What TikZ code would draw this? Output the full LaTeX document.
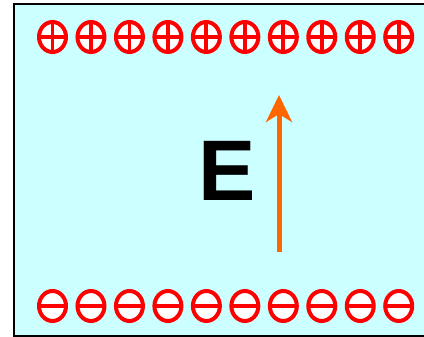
\documentclass[tikz,border=0pt]{standalone}
\usepackage{fontspec}
\setmainfont{Liberation Sans}
\usetikzlibrary{shapes.geometric,arrows.meta}
\definecolor{bgcyan}{HTML}{CCFFFF}
\definecolor{arroworange}{HTML}{FF6600}
\tikzset{
  charge/.style={ellipse, draw=red, fill=white, line width=4pt, minimum width=27pt, minimum height=30pt, inner sep=0pt},
  pluscharge/.style={charge, path picture={
      \draw[red, line width=3.8pt] (path picture bounding box.north) -- (path picture bounding box.south)
           (path picture bounding box.west) -- (path picture bounding box.east);}},
  minuscharge/.style={charge, path picture={
      \draw[red, line width=3.8pt] (path picture bounding box.west) -- (path picture bounding box.east);}},
  fieldarrow/.style={draw=arroworange, line width=5pt, -{Stealth[length=27pt,width=26pt,inset=8pt]}}
}
\begin{document}
\begin{tikzpicture}[x=1pt,y=-1pt]
\useasboundingbox (0,0) rectangle (424,337);
\clip (0,0) rectangle (424,337);
\draw[fill=bgcyan, line width=2pt] (14,4) rectangle (440,335.5);
\foreach \i in {0,...,9} {
  \node[pluscharge] (p\i) at ({52.5+38.47*\i},37) {};
  \node[minuscharge] (m\i) at ({52.5+38.47*\i},306) {};
}
\node[font=\bfseries\fontsize{86}{86}\selectfont, inner sep=0pt] (E) at (226.7,171.2) {E};
\coordinate (atail) at (279,251.7);
\coordinate (ahead) at (279,95);
\draw[fieldarrow] (atail) -- (ahead);
\end{tikzpicture}
\end{document}
